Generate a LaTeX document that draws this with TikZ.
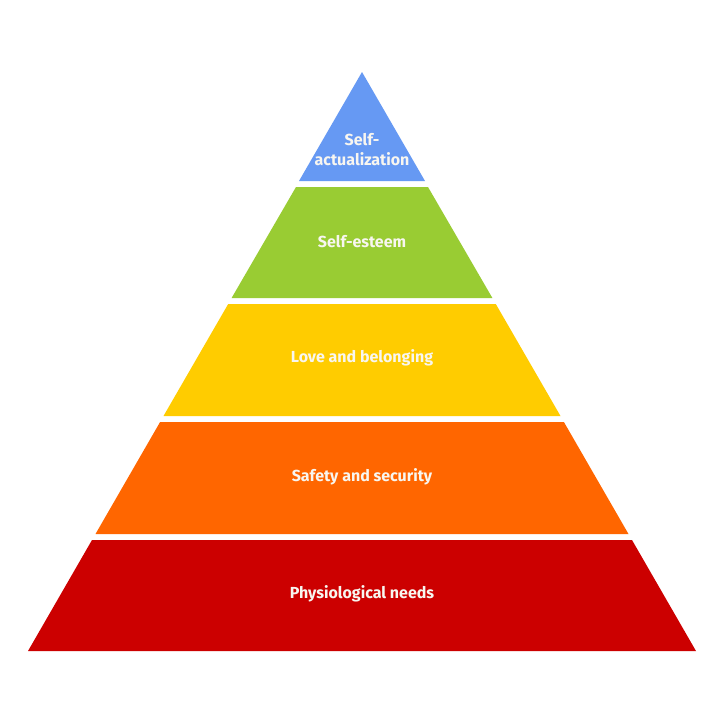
\documentclass[tikz,border=0pt]{standalone}
\usepackage{fontspec}
\setmainfont{Fira Sans}
\definecolor{cblue}{HTML}{6699F3}
\definecolor{cgreen}{HTML}{99CC33}
\definecolor{cyellow}{HTML}{FFCC00}
\definecolor{corange}{HTML}{FF6600}
\definecolor{cred}{HTML}{CC0000}
\definecolor{ctext}{HTML}{F8F6F0}
\begin{document}
\begin{tikzpicture}[x=1pt,y=-1pt,
  lbl/.style={text=ctext,font=\fontsize{16}{20}\selectfont\bfseries,align=center,inner sep=0pt}]
\useasboundingbox (0,0) rectangle (724,724);
\fill[white] (0,0) rectangle (724,724);
\fill[cblue] (362,72) -- (425,181) -- (299,181) -- cycle;
\fill[cgreen] (296,187) -- (428,187) -- (492.4,298) -- (231.6,298) -- cycle;
\fill[cyellow] (228.2,304) -- (495.8,304) -- (560.5,416) -- (163.5,416) -- cycle;
\fill[corange] (160.1,422) -- (563.9,422) -- (628.5,534) -- (95.5,534) -- cycle;
\fill[cred] (92,540) -- (632,540) -- (696,651) -- (28,651) -- cycle;
\node[lbl] (sa) at (362,150) {Self-\\actualization};
\node[lbl] (se) at (362,242) {Self-esteem};
\node[lbl] (lb) at (362,358) {Love and belonging};
\node[lbl] (ss) at (362,477) {Safety and security};
\node[lbl] (pn) at (362,594) {Physiological needs};
\end{tikzpicture}
\end{document}
